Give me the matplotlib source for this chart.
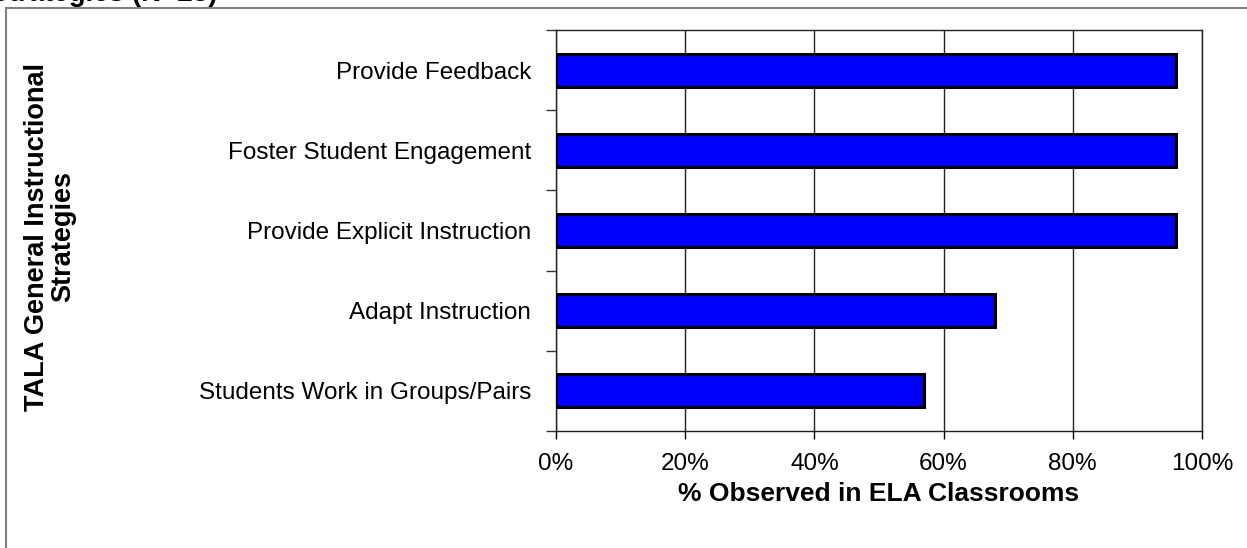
import numpy as np
import matplotlib.pyplot as plt
from matplotlib.patches import Rectangle

plt.rcParams['font.family'] = ['Liberation Sans', 'DejaVu Sans']

# =========================
# DATA
# =========================
strategies = [
    "Provide Feedback",
    "Foster Student Engagement",
    "Provide Explicit Instruction",
    "Adapt Instruction",
    "Students Work in Groups/Pairs",
]
observed = [0.96, 0.96, 0.96, 0.68, 0.57]
x_ticks = [0, 0.2, 0.4, 0.6, 0.8, 1.0]
x_ticklabels = ["0%", "20%", "40%", "60%", "80%", "100%"]

# =========================
# PLOT
# =========================
W, H = 1247, 548
fig = plt.figure(figsize=(W / 100, H / 100), dpi=100)
ax = fig.add_axes([556 / W, 1 - 431 / H, (1202 - 556) / W, (431 - 30) / H])

y = np.arange(len(strategies))
ax.barh(y, observed, height=0.41, color="#0000FF", edgecolor="black",
        linewidth=2.2, zorder=3)

ax.set_xlim(0, 1)
ax.set_ylim(len(strategies) - 0.5, -0.5)

ax.set_xticks(x_ticks)
ax.set_xticklabels(x_ticklabels, fontsize=17.5)
ax.tick_params(axis="x", direction="out", length=6, width=1, pad=10)

ax.set_yticks(y)
ax.set_yticklabels(strategies, fontsize=17.5)
ax.set_yticks(np.arange(-0.5, len(strategies)), minor=True)
ax.tick_params(axis="y", which="major", length=0, pad=18)
ax.tick_params(axis="y", which="minor", direction="out", length=7, width=1, color="#333333")

ax.grid(axis="x", color="#222222", linewidth=1, zorder=0)
for s in ax.spines.values():
    s.set_color("#222222")
    s.set_linewidth(1)

ax.set_xlabel("% Observed in ELA Classrooms", fontsize=19, fontweight="bold", labelpad=5)
fig.text(50 / W, 1 - 237 / H, "TALA General Instructional\nStrategies", rotation=90,
         fontsize=19.5, fontweight="bold", ha="center", va="center", linespacing=1.0)

# outer frame and clipped title from the page
fig.patches.append(Rectangle((6 / W, -0.2), 1.2, 1 - 8 / H + 0.2, transform=fig.transFigure,
                             fill=False, edgecolor="#808080", linewidth=1.5))
fig.text(218 / W, 1 - 1 / H, "Strategies (N=25)", fontsize=20, fontweight="bold",
         ha="right", va="baseline")

fig.savefig("out.png", dpi=100)
